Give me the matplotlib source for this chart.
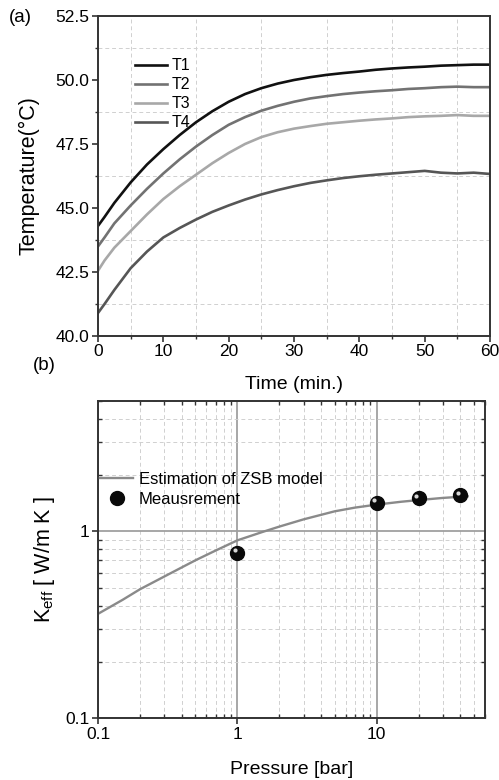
import numpy as np
import matplotlib
matplotlib.use("Agg")
import matplotlib.pyplot as plt
from matplotlib import ticker
from matplotlib.transforms import offset_copy

plt.rcParams['font.family'] = ['Liberation Sans', 'DejaVu Sans']

OUTFILE = "out.png"

# (a) temperature histories
TIME = [0, 1, 2.5, 5, 7.5, 10, 12.5, 15, 17.5, 20, 22.5, 25, 27.5, 30, 32.5,
        35, 37.5, 40, 42.5, 45, 47.5, 50, 52.5, 55, 57.5, 60]
T1 = [44.3, 44.65, 45.2, 46.0, 46.7, 47.3, 47.85, 48.35, 48.78, 49.15, 49.45,
      49.68, 49.86, 50.0, 50.11, 50.2, 50.27, 50.33, 50.4, 50.45, 50.49, 50.52,
      50.56, 50.58, 50.6, 50.6]
T2 = [43.5, 43.85, 44.4, 45.1, 45.75, 46.35, 46.9, 47.4, 47.85, 48.25, 48.55,
      48.8, 48.99, 49.15, 49.28, 49.37, 49.45, 49.51, 49.56, 49.6, 49.65, 49.68,
      49.72, 49.74, 49.72, 49.72]
T3 = [42.55, 42.95, 43.45, 44.1, 44.75, 45.35, 45.85, 46.3, 46.75, 47.15, 47.5,
      47.77, 47.96, 48.1, 48.2, 48.29, 48.35, 48.41, 48.46, 48.5, 48.55, 48.58,
      48.6, 48.63, 48.6, 48.6]
T4 = [40.9, 41.25, 41.8, 42.65, 43.3, 43.85, 44.22, 44.55, 44.85, 45.1, 45.33,
      45.53, 45.7, 45.85, 45.98, 46.08, 46.17, 46.24, 46.3, 46.35, 46.4, 46.45,
      46.38, 46.35, 46.38, 46.33]
SERIES = [('T1', T1, '#111111'), ('T2', T2, '#727272'),
          ('T3', T3, '#a8a8a8'), ('T4', T4, '#565656')]

# (b) effective conductivity vs pressure
P_MODEL = [0.1, 0.15, 0.2, 0.3, 0.5, 0.7, 1, 1.5, 2, 3, 5, 7, 10, 15, 20, 30, 45]
K_MODEL = [0.362, 0.43, 0.49, 0.574, 0.70, 0.79, 0.895, 0.99, 1.06, 1.16,
           1.28, 1.34, 1.39, 1.44, 1.47, 1.51, 1.54]
P_MEAS = [1, 10, 20, 40]
K_MEAS = [0.77, 1.42, 1.50, 1.56]

SPINE = '#333333'

fig = plt.figure(figsize=(4.99, 7.80), dpi=100)

# ---------- (a) ----------
ax1 = fig.add_axes([0.1964, 0.5692, 0.7856, 0.4103])
for name, vals, c in SERIES:
    ax1.plot(TIME, vals, color=c, lw=1.9, label=name)
ax1.set_xlim(0, 60)
ax1.set_ylim(40, 52.5)
ax1.xaxis.set_major_locator(ticker.MultipleLocator(10))
ax1.xaxis.set_minor_locator(ticker.MultipleLocator(5))
ax1.yaxis.set_major_locator(ticker.MultipleLocator(2.5))
ax1.yaxis.set_minor_locator(ticker.MultipleLocator(1.25))
ax1.yaxis.set_major_formatter(ticker.FormatStrFormatter('%.1f'))
ax1.grid(which='minor', ls=(0, (4, 3)), color='#d0d0d0', lw=0.7)
ax1.tick_params(which='major', direction='out', length=4, width=1.2,
                color=SPINE, labelsize=12.5, pad=2)
ax1.tick_params(which='minor', direction='out', length=2, width=1, color=SPINE)
for s in ax1.spines.values():
    s.set_color(SPINE)
    s.set_linewidth(1.4)
ax1.set_xlabel('Time (min.)', fontsize=14, labelpad=12)
ax1.set_ylabel('Temperature(\u00b0C)', fontsize=15.5, labelpad=12)
ax1.legend(loc='upper left', bbox_to_anchor=(0.094, 0.868), frameon=False,
           fontsize=11.5, handlelength=2.0, handletextpad=0.3, labelspacing=0.25,
           borderpad=0, borderaxespad=0)

fig.text(0.04, 0.978, '(a)', fontsize=13.5, ha='center', va='center')
fig.text(0.088, 0.531, '(b)', fontsize=13.5, ha='center', va='center')

# ---------- (b) ----------
ax2 = fig.add_axes([0.1964, 0.0791, 0.7756, 0.4072])
ax2.set_xscale('log')
ax2.set_yscale('log')
ax2.plot(P_MODEL, K_MODEL, color='#8a8a8a', lw=1.7,
         label='Estimation of ZSB model')
ax2.plot(P_MEAS, K_MEAS, ls='none', marker='o', ms=10, mfc='#0a0a0a',
         mec='#0a0a0a', label='Meausrement')
hl = offset_copy(ax2.transData, fig=fig, x=-1.8, y=1.8, units='points')
ax2.plot(P_MEAS, K_MEAS, ls='none', marker='o', ms=3, mfc='#d8d8d8',
         mec='none', transform=hl)
ax2.set_xlim(0.1, 60)
ax2.set_ylim(0.1, 5)
fmt = ticker.FuncFormatter(lambda v, p: f'{v:g}')
ax2.xaxis.set_major_formatter(fmt)
ax2.yaxis.set_major_formatter(fmt)
ax2.xaxis.set_minor_formatter(ticker.NullFormatter())
ax2.yaxis.set_minor_formatter(ticker.NullFormatter())
ax2.grid(which='major', ls='-', color='#a0a0a0', lw=1.3)
ax2.grid(which='minor', ls=(0, (4, 3)), color='#d0d0d0', lw=0.7)
ax2.tick_params(which='major', direction='out', length=4, width=1.2,
                color=SPINE, labelsize=12.5, pad=2)
ax2.tick_params(which='minor', direction='in', length=3, width=1, color=SPINE,
                top=True, right=True)
for s in ax2.spines.values():
    s.set_color(SPINE)
    s.set_linewidth(1.4)
ax2.set_xlabel('Pressure [bar]', fontsize=14, labelpad=14)
ax2.set_ylabel('K$_{\\mathregular{eff}}$ [ W/m K ]', fontsize=15.5, labelpad=6)
ax2.legend(loc='upper left', bbox_to_anchor=(0.005, 0.775), frameon=False,
           fontsize=12, handlelength=2.0, handletextpad=0.35, labelspacing=0.3,
           borderpad=0, borderaxespad=0)

fig.savefig(OUTFILE, dpi=100)
